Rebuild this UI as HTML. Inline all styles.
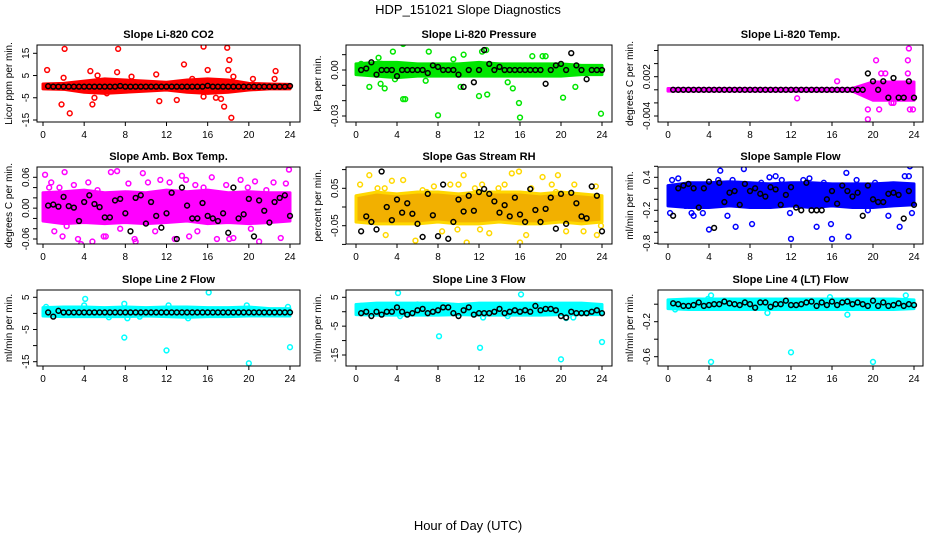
<!DOCTYPE html>
<html><head><meta charset="utf-8"><style>
html,body{margin:0;padding:0;background:#fff}
svg{display:block;font-family:"Liberation Sans",sans-serif}
</style></head><body>
<svg id="c" width="936" height="540" viewBox="0 0 936 540">
<text x="468" y="14" text-anchor="middle" font-size="13">HDP_151021  Slope Diagnostics</text>
<text x="468" y="530" text-anchor="middle" font-size="13">Hour of Day (UTC)</text>
</svg>
<script>
// ---- data ----
const xTicks=[0,4,8,12,16,20,24];
const bandHours=[0,2,4,6,8,10,12,14,16,18,20,22,24];
// P1 CO2
const co2BandHi=[1.2,1.5,2.5,3.5,3,2.5,2,3,3.5,3,1.5,1.2,1];
const co2BandLo=[-1,-1.2,-2.5,-3,-2.5,-2,-1.5,-2.5,-3,-2.5,-1.5,-1,-1];
const co2OutX=[0.4,2.1,1.8,2.6,7.3,7.2,4.8,4.6,5.3,11.3,11,13.7,13,15.6,15.6,16,17.9,18.1,18,17.6,18.3,16.8,22.6,20.4,22.5,6.2,8.6,18.5,17.3,2.0,5.0,14.5];
const co2OutY=[7.5,17,-8,-12,17,6.5,-8,7,5,-6.5,5.5,10,-6,18,-4.5,7.5,17.5,12,7.5,-9,-14,-5,7,3.5,3.5,-3,4.5,4.5,-5.5,4,-5,3.5];
const co2Black=[0.2,0,0,0,0,0,0,0,0,0,0,0,0,0,0.3,0,0,0,0,0,0,0,0,0,0,0,0,0,0,0,0,0.4,0,0,0,0,0,0,0,0,0,0,0,0,0,0,0,0.3];
// P2 Pressure
const prBandHi=[0.004,0.005,0.005,0.004,0.004,0.004,0.005,0.004,0.004,0.004,0.004,0.003,0.003];
const prBandLo=[-0.003,-0.004,-0.005,-0.004,-0.004,-0.004,-0.004,-0.004,-0.004,-0.004,-0.004,-0.003,-0.003];
const prOutX=[0.5,1.3,2.2,2.5,2.9,3.3,3.6,4.6,2.4,2.8,4.6,4.8,7.1,8,10.2,10.5,12,12.8,12.7,12.3,15.9,16,15.3,18.2,18.5,20.2,21.4,23.9,17.2,14.8,3.8,6.8,9.5];
const prOutY=[0.004,-0.011,0.008,0.004,0.0205,0.019,0.012,0.017,-0.009,-0.012,-0.019,-0.019,0.012,-0.0295,-0.011,0.01,-0.017,-0.016,0.013,0.012,-0.0215,-0.031,-0.012,0.009,0.009,-0.018,-0.011,-0.0285,0.009,-0.008,-0.006,-0.007,0.007];
const prBlack=[0,0.001,0.005,-0.003,0,0,0,-0.004,0,0,0,0,0,-0.002,0.003,0.002,0,0,0,-0.003,-0.011,0,-0.008,0,0.013,0.004,0,0.002,0,0,0,0,0,0,0,0,-0.009,0,0.003,0.004,0,0.011,0.003,0,-0.006,0,0,0];
// P3 Li-820 Temp
const tpBandHi=[0.0002,0.0002,0.0002,0.0002,0.0002,0.0002,0.0002,0.0002,0.0002,0.0002,0.0012,0.0012,0.0012];
const tpBandLo=[-0.0002,-0.0002,-0.0002,-0.0002,-0.0002,-0.0002,-0.0002,-0.0002,-0.0002,-0.0002,-0.0016,-0.0016,-0.0016];
const tpOutX=[12.6,16.5,19.5,19.5,20.3,20.8,21.2,23.4,23.4,23.5,23.9,20.6,22,21.8,23.6];
const tpOutY=[-0.0013,0.0013,-0.003,-0.0045,0.0045,0.0025,0.0025,0.0045,0.0025,0.0063,-0.003,-0.003,-0.002,-0.002,-0.003];
const tpBlack=[0,0,0,0,0,0,0,0,0,0,0,0,0,0,0,0,0,0,0,0,0,0,0,0,0,0,0,0,0,0,0,0,0,0,0,0,0,0,0.0025,0.0013,0,0.0013,-0.0012,0.0018,-0.0012,-0.0012,0.0013,-0.0012];
// P4 Amb Box Temp
const abBandHi=[0.03,0.032,0.035,0.03,0.032,0.03,0.035,0.032,0.035,0.03,0.032,0.03,0.03];
const abBandLo=[-0.025,-0.03,-0.028,-0.03,-0.028,-0.03,-0.028,-0.025,-0.03,-0.028,-0.03,-0.028,-0.025];
const abOutX=[0.2,0.4,0.8,1.1,1.6,2.1,2.3,1.9,3.0,3.7,4.4,4.8,5.3,5.9,6.6,7.2,7.5,8.3,8.9,9.7,10.2,10.9,11.4,12.3,12.8,13.5,14.2,14.8,15.6,16.4,16.9,17.8,18.5,19.2,19.9,20.6,21.0,21.7,22.4,23.1,23.6,23.9,3.4,6.1,9.0,13.9,18.1,0.6,15.0,20.2];
const abOutY=[0.065,-0.015,0.05,-0.045,0.04,0.07,-0.035,-0.055,0.045,-0.07,0.05,-0.065,0.035,-0.055,0.07,0.072,-0.04,0.048,-0.06,0.068,0.05,-0.045,0.055,0.05,-0.06,0.063,-0.055,0.045,0.04,0.06,-0.06,0.045,-0.058,0.055,0.04,0.052,-0.065,0.035,0.05,-0.058,0.048,0.075,-0.06,-0.055,-0.065,0.055,-0.06,0.04,-0.045,-0.04];
const abBlack=[0.005,0.007,0.003,0.022,0.004,0.001,-0.025,0.012,0.025,0.008,0.002,-0.018,-0.018,0.015,0.018,-0.01,-0.045,0.02,0.025,-0.03,0.012,-0.015,-0.038,-0.01,0.03,-0.06,0.04,0.005,-0.02,-0.02,0.01,-0.015,-0.02,-0.025,-0.01,-0.048,0.04,-0.02,-0.012,0.018,-0.055,0.015,-0.005,-0.028,0.012,0.02,0.025,-0.015];
// P5 Gas Stream RH
const rhBandHi=[0.03,0.04,0.035,0.04,0.04,0.035,0.04,0.04,0.04,0.035,0.04,0.035,0.03];
const rhBandLo=[-0.04,-0.045,-0.045,-0.045,-0.04,-0.045,-0.045,-0.04,-0.045,-0.045,-0.04,-0.045,-0.04];
const rhOutX=[0.4,1.3,2.1,2.9,3.5,4.6,5.8,6.5,7.6,8.4,9.2,10.0,10.5,10.8,11.6,12.3,13.0,13.9,14.5,15.2,15.9,16.0,17.1,18.2,19.1,19.7,20.5,21.3,22.2,23.4,23.9,2.8,6.9,9.9,12.1,16.6,19.5,23.5];
const rhOutY=[0.06,0.085,0.05,-0.075,0.07,0.072,-0.09,0.045,0.055,-0.065,0.06,0.06,0.085,-0.095,0.05,0.06,-0.07,0.05,0.06,0.09,0.095,-0.095,0.05,0.08,0.06,0.085,-0.065,0.06,-0.065,0.055,-0.05,0.05,0.04,-0.06,-0.06,-0.075,0.04,-0.075];
const rhBlack=[-0.065,-0.025,-0.04,-0.06,0.095,0,-0.035,0.02,-0.015,0.01,-0.018,-0.045,-0.08,0.035,-0.022,-0.078,0.06,-0.085,-0.04,0.02,-0.012,0.03,-0.01,0.04,0.048,0.035,0.015,-0.015,0.005,-0.025,0.025,-0.02,-0.04,0.048,-0.008,-0.04,-0.005,0.025,-0.058,0.035,-0.045,0.038,0.01,-0.025,-0.03,0.055,0.03,-0.065];
// P6 Sample Flow
const sfBandHi=[0.25,0.3,0.3,0.32,0.3,0.28,0.3,0.3,0.28,0.28,0.28,0.3,0.28];
const sfBandLo=[-0.12,-0.15,-0.15,-0.12,-0.15,-0.15,-0.12,-0.15,-0.12,-0.15,-0.15,-0.12,-0.1];
const sfOutX=[0.2,0.4,1.0,1.7,2.5,3.4,4.0,4.9,5.1,5.8,6.6,7.4,8.2,9.1,9.9,10.5,11.9,12.0,13.2,13.8,14.5,15.9,16.0,17.4,17.6,18.4,19.5,20.0,20.2,21.5,22.6,23.1,23.5,23.6,23.8,2.3,6.3,11.1,15.2];
const sfOutY=[-0.25,0.35,0.38,-0.12,-0.3,-0.25,-0.55,0.35,0.52,-0.3,-0.5,0.55,-0.45,0.3,0.4,0.42,-0.25,-0.72,0.35,0.38,-0.5,-0.45,-0.72,0.48,-0.68,0.35,-0.2,-0.88,0.3,-0.3,-0.5,0.42,0.42,0.6,-0.25,-0.25,0.35,0.35,0.3];
const sfBlack=[-0.3,0.2,0.25,0.28,0.2,-0.15,0.2,0.32,-0.52,0.3,-0.05,0.12,0.15,-0.1,0.28,0.15,0.2,0.1,0.05,0.22,0.18,-0.1,0.08,0.22,-0.15,-0.2,0.3,-0.2,-0.2,-0.2,0.0,0.15,-0.08,0.25,0.15,0.05,0.12,-0.3,0.25,0.0,-0.05,-0.05,0.1,0.12,0.08,-0.35,0.15,-0.1];
// P7 Line 2 Flow
const l2BandHi=[1.8,2,2,1.8,2,1.8,2,2,1.8,1.8,2,1.5,1.5];
const l2BandLo=[-0.8,-1,-1,-1,-1,-0.8,-1,-1.2,-1,-1,-0.8,-0.8,-0.8];
const l2OutX=[4.1,7.9,8.2,7.9,12,12.2,14.1,16.1,20,19.8,24,23.8,0.3,9.4,4.0,6.4];
const l2OutY=[4.5,3,-1.5,-7.5,-11.5,2.5,-1.5,6.5,-15.5,2.5,-10.5,2,2,-1,2.5,-1.2];
const l2Black=[0.3,-1,0.8,0.3,0.3,0.3,0.3,0.3,0.3,0.3,0.3,0.3,0.3,0.3,0.3,0.3,0.3,0.3,0.3,0.3,0.3,0.3,0.3,0.3,0.3,0.3,0.3,0.3,0.3,0.3,0.3,0.3,0.3,0.3,0.3,0.3,0.3,0.3,0.3,0.3,0.3,0.3,0.3,0.3,0.3,0.3,0.3,0.3];
// P8 Line 3 Flow
const l3BandHi=[2.5,3,3,3,3,2.5,3,3,3,3,3,3,2.5];
const l3BandLo=[-1,-1.2,-1.2,-1.2,-1.2,-1,-1.2,-1.2,-1.2,-1.2,-1,-1,-1];
const l3OutX=[4.1,8.1,12.1,16.1,20,24,20.5,4.3,12.4,6,21.2,14.8,0.5,9.5];
const l3OutY=[6.5,-8.5,-12.5,6,-16.5,-10.5,-2.2,-1.5,-2,2.5,-2.0,-1.5,2,2];
const l3Black=[-0.5,0,-1.5,0,-1,0,0,1.5,0,-1,-0.5,0.5,1,-0.5,0,0.5,1.5,1.5,-0.5,-1.5,0.5,1.5,-1,-0.5,-0.5,-0.5,0,1,-0.5,0,0.5,0,0.5,0,2,0.5,1,1,0.5,-1.5,-2,0,-0.5,-0.5,-0.5,0,0.5,-0.5];
// P9 Line 4 (LT) Flow
const l4BandHi=[0.05,0.06,0.06,0.06,0.06,0.06,0.06,0.06,0.06,0.06,0.06,0.06,0.05];
const l4BandLo=[-0.05,-0.06,-0.06,-0.06,-0.06,-0.06,-0.06,-0.06,-0.06,-0.06,-0.06,-0.06,-0.05];
const l4OutX=[4.2,12,4.2,20,17.5,0.7,9.7,23.2,3.9,15.8];
const l4OutY=[0.1,-0.55,-0.66,-0.66,-0.12,-0.06,-0.1,0.1,0.06,0.08];
const l4Black=[0.01,0,-0.02,-0.02,-0.01,0.02,-0.02,-0.01,0,0,0.03,0.01,0,-0.01,0.02,0,-0.04,0.02,0.02,-0.03,0,0,0.04,-0.01,-0.01,0,0.02,0.03,-0.02,0.02,-0.01,0.03,-0.01,0.02,0.03,0,0.02,0,-0.02,0.04,-0.02,0.02,-0.02,-0.01,0.01,-0.02,0,-0.01];

// ---- layout ----
const colL=[37,346,658],colR=[300,612,923],colX0=[43,356,668],colX24=[290,602,914];
const rowT=[45,167,290],rowB=[122,244,366];
const panels=[
 {id:'co2',title:'Slope Li-820 CO2',ylab:'Licor ppm per min.',r:0,c:0,v:[15,-15],p:[53.3,120],ticks:[-15,-5,5,15],labs:['-15','-5','5','15'],col:'#ff0000',hi:co2BandHi,lo:co2BandLo,ox:co2OutX,oy:co2OutY,bk:co2Black},
 {id:'pressure',title:'Slope Li-820 Pressure',ylab:'kPa per min.',r:0,c:1,v:[0,-0.03],p:[70,116],ticks:[-0.03,-0.02,-0.01,0,0.01],labs:['-0.03','','','0.00',''],col:'#00e600',hi:prBandHi,lo:prBandLo,ox:prOutX,oy:prOutY,bk:prBlack},
 {id:'temp',title:'Slope Li-820 Temp.',ylab:'degrees C per min.',r:0,c:2,v:[0.002,-0.004],p:[76.7,116],ticks:[-0.004,-0.002,0,0.002,0.004,0.006],labs:['-0.004','','','0.002','',''],col:'#ff00ff',hi:tpBandHi,lo:tpBandLo,ox:tpOutX,oy:tpOutY,bk:tpBlack},
 {id:'amb-box',title:'Slope Amb. Box Temp.',ylab:'degrees C per min.',r:1,c:0,v:[0.06,-0.06],p:[177.3,239],ticks:[-0.06,-0.04,-0.02,0,0.02,0.04,0.06],labs:['-0.06','','','0.00','','','0.06'],col:'#ff00ff',hi:abBandHi,lo:abBandLo,ox:abOutX,oy:abOutY,bk:abBlack},
 {id:'rh',title:'Slope Gas Stream RH',ylab:'percent per min.',r:1,c:1,v:[0.05,-0.05],p:[188.3,225.7],ticks:[-0.1,-0.05,0,0.05,0.1],labs:['','-0.05','','0.05',''],col:'#f2b000',pc:'#ffd800',hi:rhBandHi,lo:rhBandLo,ox:rhOutX,oy:rhOutY,bk:rhBlack},
 {id:'sample-flow',title:'Slope Sample Flow',ylab:'ml/min per min.',r:1,c:2,v:[0.4,-0.8],p:[177.3,243.3],ticks:[-0.8,-0.6,-0.4,-0.2,0,0.2,0.4,0.6],labs:['-0.8','','','-0.2','','','0.4',''],col:'#0000ff',hi:sfBandHi,lo:sfBandLo,ox:sfOutX,oy:sfOutY,bk:sfBlack},
 {id:'line2',title:'Slope Line 2 Flow',ylab:'ml/min per min.',r:2,c:0,v:[5,-15],p:[297.3,361.7],ticks:[-15,-10,-5,0,5],labs:['-15','','-5','','5'],col:'#00ffff',hi:l2BandHi,lo:l2BandLo,ox:l2OutX,oy:l2OutY,bk:l2Black},
 {id:'line3',title:'Slope Line 3 Flow',ylab:'ml/min per min.',r:2,c:1,v:[5,-15],p:[297.3,355],ticks:[-15,-10,-5,0,5],labs:['-15','','-5','','5'],col:'#00ffff',hi:l3BandHi,lo:l3BandLo,ox:l3OutX,oy:l3OutY,bk:l3Black},
 {id:'line4',title:'Slope Line 4 (LT) Flow',ylab:'ml/min per min.',r:2,c:2,v:[-0.2,-0.6],p:[321.7,356.7],ticks:[-0.6,-0.4,-0.2,0],labs:['-0.6','','-0.2',''],col:'#00ffff',hi:l4BandHi,lo:l4BandLo,ox:l4OutX,oy:l4OutY,bk:l4Black}
];
const NS='http://www.w3.org/2000/svg';
const svg=document.getElementById('c');
function mk(tag,attrs,parent){const e=document.createElementNS(NS,tag);for(const k in attrs)e.setAttribute(k,attrs[k]);parent.appendChild(e);return e;}
panels.forEach(P=>{
 const L=colL[P.c],R=colR[P.c],T=rowT[P.r],B=rowB[P.r];
 const xs=h=>colX0[P.c]+(colX24[P.c]-colX0[P.c])*h/24;
 const ys=v=>P.p[0]+(v-P.v[0])*(P.p[1]-P.p[0])/(P.v[1]-P.v[0]);
 const g=mk('g',{},svg);
 
 
 const cp=mk('clipPath',{id:'cp-'+P.id},g);
 mk('rect',{x:L,y:T,width:R-L,height:B-T},cp);
 const t=mk('text',{x:(L+R)/2,y:T-7,'text-anchor':'middle','font-size':11,'font-weight':'bold'},g);
 t.textContent=P.title;
 
 
 const yl=mk('text',{transform:`translate(${L-25},${(T+B)/2}) rotate(-90)`,'text-anchor':'middle','font-size':10},g);
 yl.textContent=P.ylab;
 
 
 const plot=mk('g',{'clip-path':`url(#cp-${P.id})`},g);
 // band
 let pts=bandHours.map((h,i)=>xs(h)+','+ys(P.hi[i]));
 pts=pts.concat(bandHours.slice().reverse().map((h,j)=>{const i=bandHours.length-1-j;return xs(h)+','+ys(P.lo[i]);}));
 const band=mk('polygon',{points:pts.join(' '),fill:P.col,stroke:P.pc||P.col,'stroke-width':3,'stroke-linejoin':'round'},plot);
 
 
 P.ox.forEach((h,i)=>{
  const c=mk('circle',{cx:xs(h),cy:ys(P.oy[i]),r:2.4,fill:'none',stroke:P.pc||P.col,'stroke-width':1.5},plot);
  
  
 });
 P.bk.forEach((v,i)=>{
  const c=mk('circle',{cx:xs((i+1)*0.5),cy:ys(v),r:2.4,fill:'none',stroke:'#000','stroke-width':1.5},plot);
  
  
 });
 const box=mk('rect',{x:L,y:T,width:R-L,height:B-T,fill:'none',stroke:'#000','stroke-width':1},g);
 
 
 xTicks.forEach(h=>{
  mk('line',{x1:xs(h),x2:xs(h),y1:B,y2:B+4,stroke:'#000'},g);
  const tx=mk('text',{x:xs(h),y:B+16,'text-anchor':'middle','font-size':10},g);
  tx.textContent=h;
  
  
 });
 P.ticks.forEach((v,i)=>{
  const y=ys(v);if(y<T-2||y>B+2)return;
  mk('line',{x1:L-4,x2:L,y1:y,y2:y,stroke:'#000'},g);
  if(P.labs[i]){
   const ty=mk('text',{transform:`translate(${L-8},${y}) rotate(-90)`,'text-anchor':'middle','font-size':10},g);
   ty.textContent=P.labs[i];
   
   
  }
 });
});
</script>
</body></html>
